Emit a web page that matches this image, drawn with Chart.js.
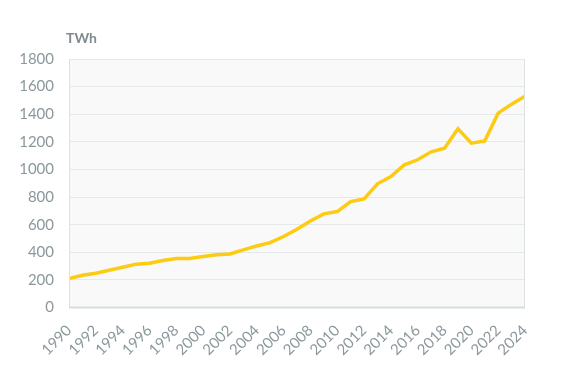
<!DOCTYPE html>
<html>
<head>
<meta charset="utf-8">
<script src="https://cdn.jsdelivr.net/npm/chart.js@4"></script>
<style>
html,body{margin:0;padding:0;background:#fff;}
#wrap{width:565px;height:367px;position:relative;}
</style>
</head>
<body>
<div id="wrap"><canvas id="c" width="565" height="367"></canvas></div>
<script>
const years = [1990,1991,1992,1993,1994,1995,1996,1997,1998,1999,2000,2001,2002,2003,2004,2005,2006,2007,2008,2009,2010,2011,2012,2013,2014,2015,2016,2017,2018,2019,2020,2021,2022,2023,2024];
const values = [210,234,248,270,292,314,321,340,355,355,369,382,388,417,446,470,514,567,627,678,695,767,787,896,949,1033,1070,1128,1154,1294,1190,1207,1408,1473,1530];
const unitLabel = 'TWh';
const yTicks = [0,200,400,600,800,1000,1200,1400,1600,1800];

const tickColor = '#8a989c';
const fontFamily = 'Lato, "Open Sans", sans-serif';

const plotBg = {
  id: 'plotBg',
  beforeDraw(chart) {
    const {ctx, chartArea: a} = chart;
    ctx.save();
    ctx.fillStyle = '#f9f9f9';
    ctx.fillRect(a.left, a.top, a.right - a.left, a.bottom - a.top);
    ctx.restore();
  },
  afterDatasetsDraw(chart) {
    const {ctx, chartArea: a} = chart;
    ctx.save();
    ctx.strokeStyle = '#dde3e3';
    ctx.lineWidth = 1;
    ctx.beginPath();
    ctx.moveTo(a.left + 0.5, a.top);
    ctx.lineTo(a.left + 0.5, a.bottom);
    ctx.moveTo(a.right - 0.5, a.top);
    ctx.lineTo(a.right - 0.5, a.bottom);
    ctx.stroke();
    ctx.strokeStyle = '#d6dddd';
    ctx.lineWidth = 2;
    ctx.beginPath();
    ctx.moveTo(a.left, a.bottom);
    ctx.lineTo(a.right, a.bottom);
    ctx.stroke();
    ctx.fillStyle = '#7d8b8f';
    ctx.font = 'bold 14px ' + fontFamily;
    ctx.textAlign = 'left';
    ctx.textBaseline = 'middle';
    ctx.fillText(unitLabel, a.left - 3, 38);
    ctx.restore();
  }
};

new Chart(document.getElementById('c'), {
  type: 'line',
  data: {
    datasets: [{
      data: years.map((y, i) => ({x: y, y: values[i]})),
      borderColor: '#fccb12',
      borderWidth: 3.5,
      pointRadius: 0,
      tension: 0,
      fill: false
    }]
  },
  options: {
    responsive: false,
    animation: false,
    layout: {padding: {top: 59, right: 40, bottom: 0, left: 0}},
    plugins: {legend: {display: false}, tooltip: {enabled: false}},
    scales: {
      x: {
        type: 'linear',
        min: 1990, max: 2024,
        afterBuildTicks(scale) {
          scale.ticks = years.filter((y, i) => i % 2 === 0).map(v => ({value: v}));
        },
        afterFit(scale) { scale.height = 59.5; },
        grid: {display: false},
        border: {display: false},
        ticks: {
          color: tickColor,
          font: {family: fontFamily, size: 15},
          maxRotation: 45, minRotation: 45,
          autoSkip: false,
          padding: 6,
          callback: v => String(v)
        }
      },
      y: {
        min: 0, max: 1800,
        afterBuildTicks(scale) {
          scale.ticks = yTicks.map(v => ({value: v}));
        },
        afterFit(scale) { scale.width = 69; },
        grid: {color: '#e4e9e9', lineWidth: 1, drawTicks: false},
        border: {display: false},
        ticks: {
          color: tickColor,
          font: {family: fontFamily, size: 15},
          padding: 15,
          callback: v => String(v)
        }
      }
    }
  },
  plugins: [plotBg]
});
</script>
</body>
</html>
